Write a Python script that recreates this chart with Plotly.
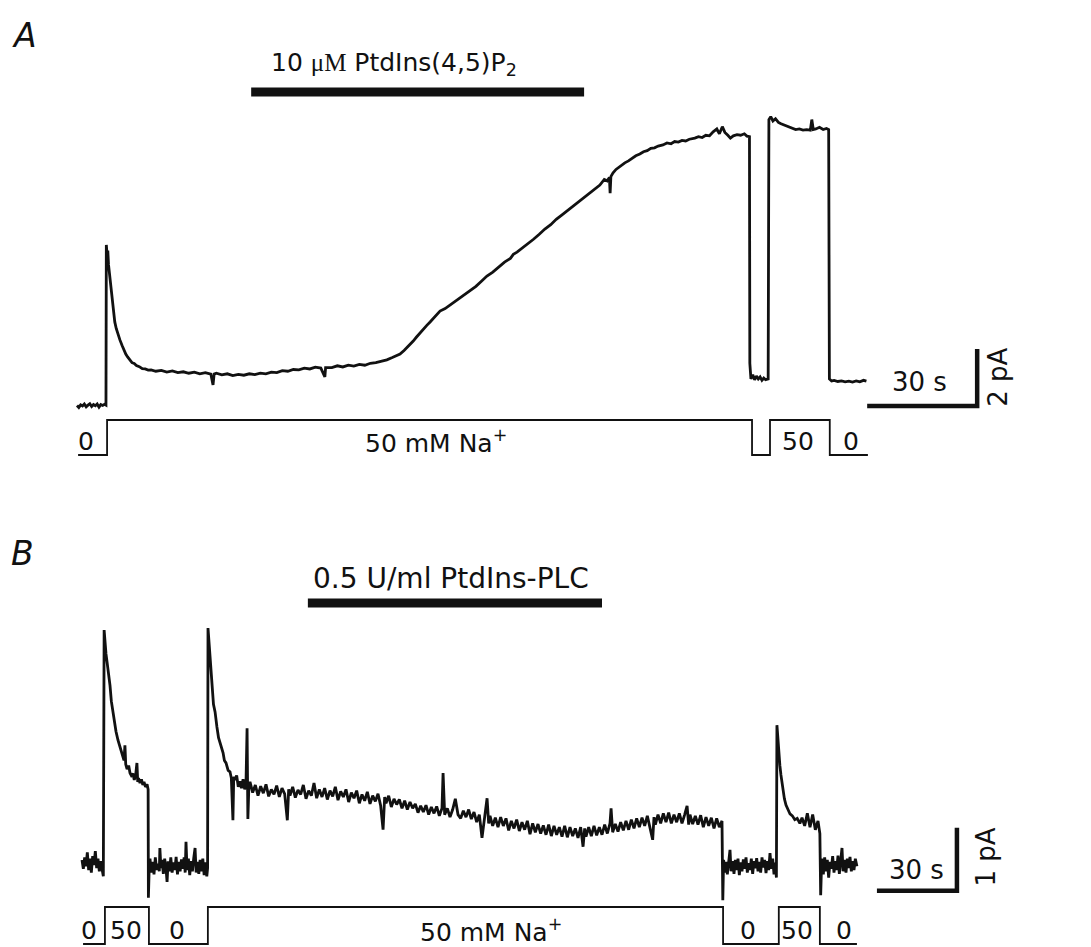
import plotly.graph_objects as go

# ---------------- DATA ----------------
# Panel A: whole-cell current (pA) vs time (s)
a_trace = [
    [0.0, 0.02], [0.5, -0.05], [1.0, 0.04], [1.5, 0.00], [2.0, 0.07], [2.5, -0.03], [3.0, 0.03],
    [3.5, 0.08], [4.0, -0.02], [4.5, 0.05], [5.0, 0.01], [5.5, 0.07], [6.0, -0.04], [6.5, 0.05],
    [7.0, 0.02], [7.5, 0.06], [7.9, 0.03],
    [8.0, 5.65], [8.2, 5.3], [8.4, 5.45], [8.6, 4.95], [8.8, 4.7], [9.0, 4.42], [9.3, 4.05],
    [9.6, 3.6], [9.9, 3.25], [10.3, 2.95], [10.7, 2.72], [11.2, 2.5], [11.7, 2.32], [12.3, 2.12],
    [12.8, 1.95], [13.3, 1.82], [13.8, 1.72], [14.4, 1.6], [15.0, 1.52], [15.6, 1.49], [16.2, 1.42],
    [17.0, 1.38], [17.8, 1.31], [18.6, 1.3], [19.4, 1.26], [20.2, 1.27],
    [21.5, 1.22], [23, 1.25], [24.5, 1.19], [26, 1.23], [27.5, 1.17], [29, 1.2], [30.5, 1.15],
    [32, 1.19], [33.5, 1.13], [35, 1.17], [36.5, 1.12], [37.1, 0.74], [37.4, 1.12], [38, 1.15],
    [39.5, 1.09], [41, 1.13], [42.5, 1.07], [44, 1.11], [45.5, 1.08], [47, 1.13], [48.5, 1.1],
    [50, 1.15], [51.5, 1.13], [53, 1.19], [54.5, 1.17], [56, 1.24], [57.5, 1.22], [59, 1.28],
    [60.5, 1.27], [62, 1.33], [63.5, 1.3], [65, 1.36], [66.5, 1.33], [67.6, 1.02], [67.8, 1.35],
    [69.5, 1.35], [71, 1.41], [72.5, 1.37], [74, 1.43], [75.5, 1.4], [77, 1.46], [78.5, 1.43],
    [80, 1.5], [81.5, 1.52], [83, 1.57], [84.5, 1.62], [86, 1.7], [87.2, 1.76], [88.1, 1.82],
    [89.2, 1.95], [90.0, 2.05], [90.8, 2.14], [91.7, 2.28], [92.6, 2.42], [93.5, 2.56],
    [94.4, 2.68], [95.4, 2.83], [96.3, 2.95], [97.2, 3.07], [98.1, 3.2], [99.0, 3.33],
    [100.4, 3.42], [101.8, 3.55], [103.1, 3.66], [104.4, 3.79], [105.8, 3.92], [107.3, 4.08],
    [108.8, 4.2], [110.3, 4.38], [111.8, 4.56], [113.4, 4.7], [115, 4.88], [116.6, 5.05],
    [118.2, 5.18], [119.0, 5.32], [120.0, 5.4], [121.5, 5.55], [123, 5.68], [124.5, 5.85],
    [126, 6.02], [127.6, 6.21], [129.2, 6.36], [130.7, 6.55], [132.2, 6.7], [133.8, 6.86],
    [135.3, 7.0], [136.4, 7.12], [137.6, 7.26], [138.8, 7.38], [140.0, 7.5], [141.3, 7.62],
    [142.6, 7.75], [143.8, 7.95], [144.6, 7.9], [145.2, 8.02], [145.4, 7.47], [145.6, 8.05],
    [146.2, 8.18], [147.0, 8.3], [147.8, 8.38], [148.6, 8.45], [149.4, 8.53], [150.4, 8.6],
    [151.4, 8.7], [152.4, 8.78], [153.5, 8.84], [154.5, 8.92], [155.5, 8.96], [156.5, 9.04],
    [157.5, 9.06], [158.5, 9.12], [159.8, 9.16], [160.9, 9.23], [162, 9.2], [163, 9.28],
    [164, 9.26], [165, 9.32], [166, 9.3], [167, 9.36], [168.5, 9.4], [169.5, 9.45], [170.5, 9.42],
    [171.5, 9.5], [172.5, 9.48], [173.5, 9.62], [174.5, 9.72], [175.2, 9.55], [176, 9.8],
    [176.7, 9.6], [177.5, 9.5], [178.2, 9.4], [179, 9.48], [180, 9.52], [181, 9.5], [182, 9.55],
    [182.7, 9.47], [183.4, 9.45],
    [183.5, 1.5], [183.8, 0.95], [184.3, 1.1], [184.8, 0.92], [185.3, 1.05], [185.8, 0.95],
    [186.3, 1.02], [186.8, 0.9], [187.3, 0.98], [187.8, 0.92], [188.5, 0.95],
    [188.7, 10.05], [189.2, 10.15], [189.8, 10.0], [190.5, 10.08], [191.3, 9.95], [192.0, 9.9],
    [193.0, 9.85], [194.0, 9.78], [195.0, 9.75], [196.0, 9.7], [197.0, 9.72], [198.0, 9.68],
    [199.0, 9.7], [200.0, 9.68], [200.4, 10.05], [200.8, 9.7], [201.5, 9.72], [202.5, 9.78],
    [203.5, 9.7], [204.4, 9.74], [205.0, 9.7],
    [205.2, 0.95], [205.8, 0.88], [206.5, 0.9], [207.5, 0.86], [208.5, 0.88], [209.5, 0.85],
    [210.5, 0.87], [211.5, 0.84], [212.5, 0.88], [213.5, 0.85], [214.5, 0.9], [215.3, 0.87],
]

# Panel A Na+ protocol (mM), step changes
stim_a_t = [0.3, 8.2, 184.1, 189.0, 205.3, 215.7]
stim_a_c = [0, 50, 0, 50, 0, 0]
drug_a_t = [47.5, 138.3]          # PtdIns(4,5)P2 application (s)

# Panel B: whole-cell current (pA) vs time (s)
b_trace = [
    [0, 0.08], [0.5, -0.06], [1, 0.12], [1.5, -0.02], [2, 0.2], [2.5, -0.08], [3, 0.1], [3.5, -0.12],
    [4, 0.14], [4.5, 0.0], [5, 0.22], [5.5, -0.05], [6, 0.1], [6.5, -0.1], [7, 0.06], [7.5, -0.08],
    [8, -0.18],
    [8.3, 3.73], [8.6, 3.5], [9.0, 3.35], [9.4, 3.22], [9.8, 3.1], [10.2, 2.9], [10.5, 2.85],
    [11.0, 2.6], [11.6, 2.42], [12.2, 2.25], [12.75, 2.12], [13.5, 1.98], [14.25, 1.88], [15.0, 1.78],
    [15.75, 1.66], [16.1, 1.9], [16.4, 1.6], [16.9, 1.52], [17.5, 1.58], [18.0, 1.46], [18.5, 1.42],
    [19.1, 1.45], [19.6, 1.35], [20.1, 1.42], [20.6, 1.62], [20.9, 1.32], [21.2, 1.38], [21.75, 1.3],
    [22.3, 1.36], [22.8, 1.27], [23.25, 1.32], [23.8, 1.24], [24.4, 1.28], [24.8, 1.2],
    [24.9, -0.52],
    [25.2, -0.05], [25.5, 0.1], [26, -0.12], [26.5, 0.05], [27, -0.15], [27.5, 0.12], [28, -0.08],
    [28.5, 0.02], [29, -0.1], [29.2, 0.27], [29.6, -0.05], [30, 0.08], [30.5, -0.14], [31, 0.1],
    [31.5, -0.05], [31.9, -0.27], [32.3, 0.06], [32.8, -0.1], [33.3, 0.12], [33.8, -0.12],
    [34.3, 0.04], [34.8, -0.08], [35.3, 0.13], [35.8, -0.15], [36.3, 0.05], [36.8, -0.1],
    [37.3, 0.09], [37.8, -0.06], [38.3, 0.12], [38.7, -0.12], [39, 0.37], [39.4, -0.08],
    [39.9, 0.1], [40.4, -0.16], [40.9, 0.06], [41.4, -0.1], [41.9, 0.11], [42.4, 0.27],
    [42.8, -0.12], [43.3, 0.05], [43.8, -0.14], [44.3, 0.08], [44.8, -0.1], [45.3, 0.1],
    [45.8, -0.16], [46.3, 0.04], [46.8, -0.18], [47.1, -0.05],
    [47.25, 3.76], [47.6, 3.55], [48.0, 3.25], [48.4, 2.95], [48.75, 2.73], [49.3, 2.55],
    [49.9, 2.43], [50.3, 2.25], [50.6, 2.19], [51.2, 2.02], [51.75, 1.95], [52.3, 1.85],
    [52.9, 1.78], [53.4, 1.66], [54.0, 1.62], [54.8, 1.5], [55.5, 1.48], [56.0, 1.38], [56.6, 0.71],
    [56.9, 1.4], [57.4, 1.35], [58.0, 1.42], [58.6, 1.24], [59.2, 1.33], [59.8, 1.22], [60.4, 1.36],
    [61.0, 1.2], [61.5, 1.3], [61.9, 2.17], [62.2, 0.73], [62.6, 1.28],
    [63, 1.32], [64, 1.15], [65, 1.27], [66, 1.1], [67, 1.25], [68, 1.14], [69, 1.28], [70, 1.09],
    [71, 1.2], [72, 1.12], [73, 1.26], [74, 1.08], [75, 1.22], [76, 1.13], [77, 0.71], [77.5, 1.2],
    [78, 1.1], [79, 1.24], [80, 1.07], [81, 1.19], [82, 1.12], [83, 1.27], [84, 1.05], [85, 1.18],
    [86, 1.1], [87, 1.3], [88, 1.06], [89, 1.2], [90, 1.08], [91, 1.22], [92, 1.04], [93, 1.18],
    [94, 1.09], [95, 1.24], [96, 1.03], [97, 1.17], [98, 1.08], [99, 1.2], [100, 1.0], [101, 1.15],
    [102, 1.06], [103, 1.18], [104, 0.98], [105, 1.12], [106, 1.02], [107, 1.16], [108, 0.97],
    [109, 1.1], [110, 1.01], [111, 1.13], [112, 0.94], [112.9, 0.56], [113.5, 1.08], [114, 0.98],
    [115, 1.1], [116, 0.92], [117, 1.05], [118, 0.96], [119, 1.04], [120, 0.9], [121, 1.02],
    [122, 0.88], [123, 1.0], [124, 0.9], [125, 0.97], [126, 0.83], [127, 0.94], [128, 0.84],
    [129, 0.95], [130, 0.8], [131, 0.92], [132, 0.82], [133, 0.93], [134, 0.78], [135, 0.9],
    [135.4, 1.46], [136, 0.8], [137, 0.9], [138, 0.76], [139, 0.88], [140, 1.05], [141, 0.8],
    [142, 0.74], [143, 0.86], [144, 0.76], [145, 0.88], [146, 0.73], [147, 0.84], [148, 0.68],
    [149, 0.8], [150, 0.43], [151, 0.78], [151.9, 1.06], [152.5, 0.66], [153, 0.78], [154, 0.62],
    [155, 0.75], [156, 0.6], [157, 0.76], [158, 0.62], [159, 0.74], [160, 0.55], [161, 0.7],
    [162, 0.58], [163, 0.72], [164, 0.54], [165, 0.68], [166, 0.56], [167, 0.7], [168, 0.49],
    [169, 0.66], [170, 0.52], [171, 0.65], [172, 0.5], [173, 0.63], [174, 0.48], [175, 0.64],
    [176, 0.46], [177, 0.62], [178, 0.48], [179, 0.6], [180, 0.45], [181, 0.62], [182, 0.44],
    [183, 0.6], [184, 0.46], [185, 0.58], [186, 0.43], [187, 0.6], [187.9, 0.29], [188.5, 0.58],
    [189, 0.45], [190, 0.6], [191, 0.46], [192, 0.62], [193, 0.47], [194, 0.6], [195, 0.48],
    [196, 0.64], [197, 0.5], [198, 0.66], [198.4, 0.9], [199, 0.52], [200, 0.65], [201, 0.53],
    [202, 0.68], [203, 0.55], [204, 0.7], [205, 0.56], [206, 0.72], [207, 0.58], [208, 0.74],
    [209, 0.6], [210, 0.75], [211, 0.62], [212, 0.78], [213, 0.6], [214, 0.4], [214.5, 0.76],
    [215, 0.64], [216, 0.8], [217, 0.66], [218, 0.82], [219, 0.68], [220, 0.83], [221, 0.66],
    [222, 0.8], [223, 0.68], [224, 0.82], [225, 0.66], [226, 0.8], [226.9, 0.94], [227.5, 0.64],
    [228, 0.8], [229, 0.65], [230, 0.78], [231, 0.64], [232, 0.79], [233, 0.6], [234, 0.76],
    [235, 0.62], [236, 0.75], [237, 0.58], [238, 0.74], [239, 0.6], [240, 0.7],
    [240.3, -0.56], [240.6, 0.08], [241, -0.12], [241.5, 0.05], [242, -0.15], [242.5, 0.02],
    [243, 0.24], [243.4, -0.1], [244, 0.06], [244.5, -0.14], [245, 0.08], [245.5, -0.08],
    [246, 0.1], [246.5, -0.16], [247, 0.04], [247.5, -0.1], [248, 0.09], [248.5, -0.06],
    [249, 0.12], [249.5, -0.12], [250, 0.03], [250.5, -0.08], [251, 0.1], [251.5, -0.14],
    [252, 0.06], [252.5, -0.05], [253, 0.11], [253.5, -0.1], [254, 0.05], [254.5, -0.12],
    [255, 0.12], [255.5, -0.04], [256, 0.08], [256.5, -0.13], [257, 0.06], [257.5, -0.08],
    [258, 0.19], [258.5, -0.06], [259, 0.1], [259.5, -0.15], [260, 0.04], [260.4, -0.2],
    [260.6, 2.22], [260.9, 2.05], [261.3, 1.75], [261.7, 1.58], [262.1, 1.43], [262.5, 1.3],
    [262.8, 1.19], [263.4, 1.05], [264.0, 0.95], [264.7, 0.88], [265.5, 0.81], [266.4, 0.78],
    [267.3, 0.72], [268.2, 0.74], [269.2, 0.66], [270, 0.75], [271, 0.62], [272, 0.82],
    [273, 0.6], [274, 0.8], [275, 0.56], [276, 0.7], [276.7, 0.5],
    [277.0, -0.48], [277.4, 0.1], [278, -0.15], [278.5, 0.12], [279, -0.1], [279.5, 0.08],
    [280, -0.2], [280.5, 0.05], [281, -0.06], [281.5, 0.14], [282, -0.12], [282.5, 0.06],
    [283, -0.08], [283.5, 0.15], [284, -0.14], [284.5, 0.04], [285, 0.27], [285.4, -0.1],
    [286, 0.08], [286.5, -0.12], [287, 0.1], [287.5, -0.05], [288, 0.13], [288.5, -0.1],
    [289, 0.06], [289.5, -0.08], [290, 0.1], [290.6, -0.02],
]

stim_b_t = [0.4, 8.6, 25.1, 47.2, 240.4, 261.3, 276.7, 290.6]
stim_b_c = [0, 50, 0, 50, 0, 50, 0, 0]
drug_b_t = [84.7, 195.0]          # PtdIns-PLC application (s)

# stimulus labels: (time s, text)
stim_a_labels = [(2.45, "0"), (97.9, "50 mM Na<sup>+</sup>"), (196.6, "50"), (211.0, "0")]
stim_b_labels = [(2.8, "0"), (16.5, "50"), (35.8, "0"), (153.4, "50 mM Na<sup>+</sup>"),
                 (249.9, "0"), (268.3, "50"), (285.6, "0")]

scale_a = (30, 2)   # s, pA
scale_b = (30, 1)

# ---------------- LAYOUT GEOMETRY ----------------
W, H = 1091, 947
SPLIT = 480
# panel A pixel mapping
a_x0, a_pps = 77, 110 / 30
a_y0, a_ppp = 406, 57 / 2
a_s0, a_ppm = 455, 35 / 50
# panel B pixel mapping
b_x0, b_pps = 82, 80 / 30
b_y0, b_ppp = 865, 63
b_s0, b_ppm = 944, 37 / 50

FONT = "DejaVu Sans"
BLACK = "#111111"

fig = go.Figure()

def line(x, y, xa, ya, w, shape="linear"):
    fig.add_trace(go.Scatter(x=x, y=y, xaxis=xa, yaxis=ya, mode="lines",
                             line=dict(color=BLACK, width=w, shape=shape),
                             hoverinfo="skip", showlegend=False))

# Panel A
line([p[0] for p in a_trace], [p[1] for p in a_trace], "x", "y", 2.8)
line(stim_a_t, stim_a_c, "x", "y3", 1.8, "hv")
line(drug_a_t, [11.02, 11.02], "x", "y", 9)
sa_t0 = 215.5
line([sa_t0, sa_t0 + scale_a[0], sa_t0 + scale_a[0]], [0.0, 0.0, scale_a[1]], "x", "y", 4.5)

# Panel B
line([p[0] for p in b_trace], [p[1] for p in b_trace], "x2", "y2", 2.8)
line(stim_b_t, stim_b_c, "x2", "y4", 1.8, "hv")
line(drug_b_t, [4.16, 4.16], "x2", "y2", 9)
sb_t0 = 298.1
sb_i0 = -0.41
line([sb_t0, sb_t0 + scale_b[0], sb_t0 + scale_b[0]], [sb_i0, sb_i0, sb_i0 + scale_b[1]], "x2", "y2", 4.5)

ann = []
def text(s, x, y, xref, yref, size, angle=0, italic=False):
    ann.append(dict(text=(f"<i>{s}</i>" if italic else s), x=x, y=y, xref=xref, yref=yref,
                    showarrow=False, textangle=angle, xanchor="center", yanchor="middle",
                    font=dict(family=FONT, size=size, color=BLACK)))

text("A", 24 / W, 1 - 36 / H, "paper", "paper", 33, italic=True)
text("B", 22 / W, 1 - 553 / H, "paper", "paper", 33, italic=True)
text("10 <span style=\"font-family:Liberation Serif\">μM</span> PtdIns(4,5)P<sub>2</sub>",
     86.5, 12.0, "x", "y", 25)
text("0.5 U/ml PtdIns-PLC", 138.4, 4.55, "x2", "y2", 28)
for t, s in stim_a_labels:
    text(s, t, 20, "x", "y3", 25)
for t, s in stim_b_labels:
    text(s, t, 17.6, "x2", "y4", 25)
text(f"{scale_a[0]} s", 229.9, 0.84, "x", "y", 26)
text(f"{scale_a[1]} pA", 251.0, 1.0, "x", "y", 26, angle=-90)
text(f"{scale_b[0]} s", 313.1, -0.08, "x2", "y2", 26)
text(f"{scale_b[1]} pA", 339.0, 0.12, "x2", "y2", 26, angle=-90)

dA = [1 - SPLIT / H, 1]
dB = [0, 1 - SPLIT / H]
hid = dict(visible=False, fixedrange=True)
fig.update_layout(
    width=W, height=H, autosize=False,
    margin=dict(l=0, r=0, t=0, b=0),
    paper_bgcolor="white", plot_bgcolor="white",
    showlegend=False,
    annotations=ann,
    xaxis=dict(domain=[0, 1], anchor="y", range=[-a_x0 / a_pps, (W - a_x0) / a_pps], **hid),
    yaxis=dict(domain=dA, anchor="x", range=[(a_y0 - SPLIT) / a_ppp, a_y0 / a_ppp], **hid),
    yaxis3=dict(overlaying="y", anchor="x", range=[(a_s0 - SPLIT) / a_ppm, a_s0 / a_ppm], **hid),
    xaxis2=dict(domain=[0, 1], anchor="y2", range=[-b_x0 / b_pps, (W - b_x0) / b_pps], **hid),
    yaxis2=dict(domain=dB, anchor="x2", range=[(b_y0 - H) / b_ppp, (b_y0 - SPLIT) / b_ppp], **hid),
    yaxis4=dict(overlaying="y2", anchor="x2", range=[(b_s0 - H) / b_ppm, (b_s0 - SPLIT) / b_ppm], **hid),
)

fig.write_html("out.html")
